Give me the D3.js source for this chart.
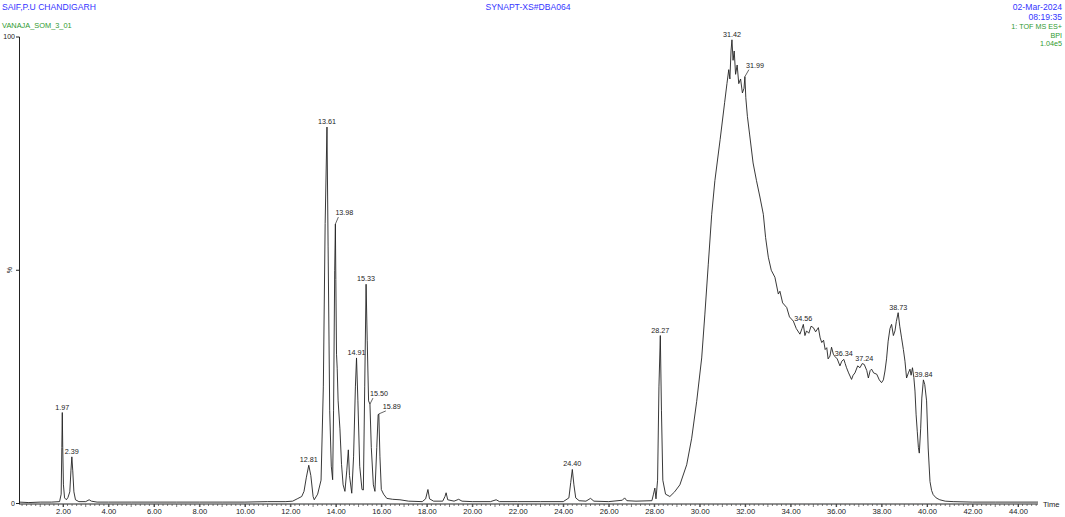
<!DOCTYPE html>
<html><head><meta charset="utf-8">
<script src="https://cdn.jsdelivr.net/npm/d3@7"></script>
<style>
html,body{margin:0;padding:0;background:#fff;}
svg text{font-family:Arial,"Liberation Sans",sans-serif;}
</style></head>
<body><svg id="c" width="1065" height="517"></svg>
<script>
// ---- data ----
const times = [0.07,0.5,1.0,1.5,1.85,1.92,1.95,1.97,1.99,2.02,2.07,2.15,2.22,2.3,2.35,2.39,2.43,2.48,2.55,2.7,3.0,3.15,3.25,3.5,4,5,6,7,8,9,10,11,11.8,12.1,12.3,12.5,12.6,12.7,12.81,12.9,13.0,13.05,13.2,13.35,13.45,13.53,13.61,13.66,13.73,13.8,13.86,13.9,13.95,13.98,14.0,14.03,14.06,14.1,14.18,14.25,14.32,14.4,14.48,14.55,14.6,14.7,14.78,14.86,14.91,14.97,15.05,15.15,15.21,15.27,15.33,15.38,15.44,15.5,15.56,15.65,15.72,15.8,15.86,15.89,15.94,16.0,16.1,16.24,16.5,16.82,17.2,17.8,17.95,18.05,18.12,18.3,18.7,18.8,18.85,18.92,19.2,19.4,19.55,20,20.8,21.05,21.2,22,23,24,24.25,24.33,24.4,24.47,24.55,24.7,25.0,25.2,25.35,26,26.6,26.7,26.8,27.2,27.9,27.97,28.03,28.08,28.15,28.21,28.27,28.32,28.38,28.5,28.69,28.9,29.13,29.43,29.65,29.87,30.09,30.23,30.38,30.53,30.67,30.9,31.1,31.2,31.28,31.33,31.38,31.42,31.47,31.52,31.58,31.65,31.72,31.8,31.88,31.95,31.99,32.03,32.1,32.2,32.35,32.5,32.65,32.8,32.9,33.02,33.15,33.31,33.46,33.53,33.65,33.83,33.95,34.12,34.25,34.41,34.5,34.56,34.63,34.7,34.8,34.9,35.0,35.1,35.22,35.3,35.37,35.45,35.52,35.59,35.65,35.73,35.8,35.88,35.95,36.05,36.17,36.25,36.34,36.4,36.46,36.55,36.68,36.75,36.83,36.95,37.05,37.15,37.24,37.35,37.42,37.5,37.56,37.65,37.79,37.9,38.0,38.08,38.15,38.22,38.29,38.37,38.44,38.52,38.59,38.65,38.73,38.8,38.88,38.96,39.03,39.1,39.18,39.25,39.3,39.36,39.42,39.47,39.52,39.57,39.62,39.66,39.72,39.77,39.84,39.9,39.98,40.05,40.13,40.2,40.27,40.4,40.56,40.8,41.15,42,43,44,44.88];
const intensity = [0.3,0.2,0.3,0.3,0.4,2,12,19.5,12,4,1.2,0.8,1.3,2.5,7,10,7,2.5,0.8,0.4,0.4,0.8,0.5,0.3,0.3,0.3,0.3,0.3,0.3,0.3,0.3,0.4,0.4,0.5,1.0,1.5,2.6,5.5,8.2,6,1.5,0.8,2,5,25,60,80.7,55,20,8,5.1,20,50,59.9,48,32,29,22,16,8.4,4,2.6,7,11.5,6,2.2,10,25,31.2,22,8,3,2.9,25,47,35,22,21.3,12,4,2.6,12,19,19.2,10,3,2,1.1,0.9,0.8,0.5,0.4,1,3.0,1,0.5,0.5,1.5,2.3,0.8,0.5,0.9,0.5,0.4,0.4,0.8,0.4,0.4,0.4,0.4,1.2,4.5,7.3,4,1.2,0.6,0.5,1.1,0.5,0.4,0.7,1.2,0.6,0.5,0.6,2,3.3,1.0,5,25,36,20,5,2,1.5,2.5,4,8.3,14,21.9,31.2,40.6,51.3,62,69.2,78,86,90,93,91,97,99.4,95,97,92,94,90,91,88,89,91.5,87,83,79,73,69.2,65.7,62,57,52.8,50,48.5,44.9,45.5,43,42,40,39.1,37.5,36.3,37.5,38.4,36,37,36.5,38,37.7,36.8,37.7,35.5,34.5,35,33,33.4,31,31.6,33.5,32,31.5,31,29.5,30.5,30.9,30,29.1,28,26.6,27.5,28,29.5,29.1,30,29.8,28.5,26.9,28.5,28.8,28,27.7,26.5,25.9,26.5,28.4,31,34.8,37.5,38.4,36,37,39,40.9,38,35.5,33,30.5,26.9,28,28.8,27.5,29.1,27,24.1,19,15.5,12,10.8,16,22.6,26.5,25.5,22,11.9,4.7,2.8,1.9,1.2,0.8,0.5,0.4,0.3,0.3,0.3,0.3];
const peakLabels = ["1.97","2.39","12.81","13.61","13.98","14.91","15.33","15.50","15.89","24.40","28.27","31.42","31.99","34.56","36.34","37.24","38.73","39.84"];
const xTickLabels = ["2.00","4.00","6.00","8.00","10.00","12.00","14.00","16.00","18.00","20.00","22.00","24.00","26.00","28.00","30.00","32.00","34.00","36.00","38.00","40.00","42.00","44.00"];
const headerLeft = ["SAIF,P.U CHANDIGARH","VANAJA_SOM_3_01"];
const headerCenter = "SYNAPT-XS#DBA064";
const headerRight = ["02-Mar-2024","08:19:35","1: TOF MS ES+","BPI","1.04e5"];

// ---- styles ----
const blue = "#3535ff", green = "#2f9a2f", ink = "#222";
const leader = {"13.98":[9,-9],"15.50":[9,-8],"15.89":[13,-5],"31.99":[10,-9]};

const svg = d3.select("#c");
const x = d3.scaleLinear().domain([0.066, 44.88]).range([19, 1038]);
const y = d3.scaleLinear().domain([0, 100]).range([503.5, 37]);
const data = times.map((t,i)=>({t, v:intensity[i]}));

// headers
svg.append("text").attr("x",2).attr("y",10).attr("fill",blue).attr("font-size",8.6).text(headerLeft[0]);
svg.append("text").attr("x",2).attr("y",28).attr("fill",green).attr("font-size",7.4).text(headerLeft[1]);
svg.append("text").attr("x",528).attr("y",10).attr("text-anchor","middle").attr("fill",blue).attr("font-size",8.6).text(headerCenter);
const ry=[10,19.5,29,37.5,46];
headerRight.forEach((s,i)=>svg.append("text").attr("x",1062).attr("y",ry[i]).attr("text-anchor","end")
  .attr("fill", i<2?blue:green).attr("font-size", i<2?8.6:7.2).text(s));

// axes
const ax = svg.append("g").attr("stroke",ink).attr("stroke-width",1).attr("fill","none");
ax.append("line").attr("x1",19.5).attr("x2",19.5).attr("y1",y(100)).attr("y2",y(0)+0.5);
ax.append("line").attr("x1",19).attr("x2",1038).attr("y1",y(0)+0.5).attr("y2",y(0)+0.5);
[0,50,100].forEach(v=>ax.append("line").attr("x1",16).attr("x2",19.5).attr("y1",y(v)).attr("y2",y(v)));
svg.append("text").attr("x",15).attr("y",y(100)+2).attr("text-anchor","end").attr("font-size",7).attr("fill",ink).text("100");
svg.append("text").attr("x",15).attr("y",y(0)+2.5).attr("text-anchor","end").attr("font-size",7).attr("fill",ink).text("0");
svg.append("text").attr("transform",`translate(12,${y(50)}) rotate(-90)`).attr("text-anchor","middle").attr("font-size",7).attr("fill",ink).text("%");

const minor = d3.range(0.2, 44.81, 0.2);
const gt = svg.append("g").attr("stroke","#444").attr("stroke-width",0.7);
minor.forEach(t=>{
  const major = Math.abs(t - Math.round(t))<1e-6;
  gt.append("line").attr("x1",x(t)).attr("x2",x(t)).attr("y1",y(0)+0.5).attr("y2",y(0)+(major?3.5:2.5));
});
const xAxis = d3.axisBottom(x).tickValues(xTickLabels.map(Number)).tickFormat((d,i)=>xTickLabels[i]).tickSize(3);
const gx = svg.append("g").attr("transform",`translate(0,${y(0)+0.5})`).call(xAxis);
gx.select(".domain").remove();
gx.selectAll(".tick line").attr("stroke","#444");
gx.selectAll(".tick text").attr("font-size",7.6).attr("fill",ink).attr("font-family","Arial, 'Liberation Sans', sans-serif").attr("dy","0.55em");
svg.append("text").attr("x",1043).attr("y",y(0)+3).attr("font-size",7.6).attr("fill",ink).text("Time");

// trace
svg.append("path").datum(data).attr("fill","none").attr("stroke",ink).attr("stroke-width",0.9)
  .attr("d", d3.line().x(d=>x(d.t)).y(d=>y(d.v)));

// peak labels
peakLabels.forEach(lbl=>{
  const t=+lbl;
  const near = data.filter(d=>Math.abs(d.t-t)<0.04);
  const pk = d3.max(near,d=>d.v);
  const px=x(t), py=y(pk);
  const off = leader[lbl];
  if(off){
    svg.append("line").attr("x1",px).attr("y1",py).attr("x2",px+off[0]-6).attr("y2",py+off[1]+2)
      .attr("stroke",ink).attr("stroke-width",0.7);
    svg.append("text").attr("x",px+off[0]).attr("y",py+off[1]).attr("text-anchor","middle")
      .attr("font-size",7.2).attr("fill",ink).text(lbl);
  } else {
    svg.append("text").attr("x",px).attr("y",py-3).attr("text-anchor","middle")
      .attr("font-size",7.2).attr("fill",ink).text(lbl);
  }
});
</script></body></html>
